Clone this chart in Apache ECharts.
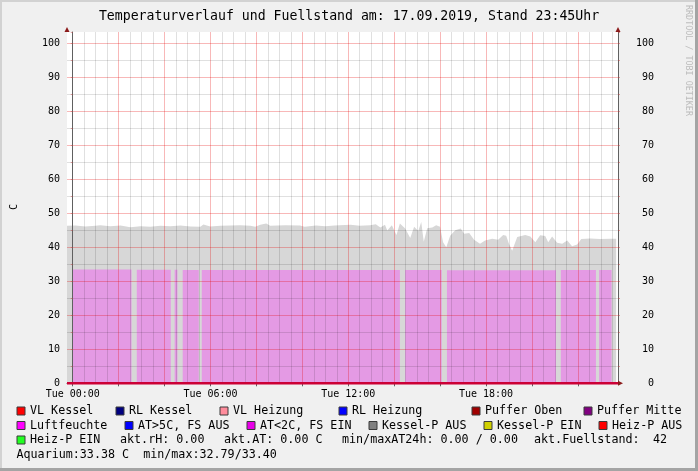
<!DOCTYPE html>
<html><head><meta charset="utf-8">
<script src="https://cdn.jsdelivr.net/npm/echarts@6/dist/echarts.min.js"></script>
<style>html,body{margin:0;padding:0;background:#f0f0f0}#c{width:698px;height:471px}</style>
</head><body><div id="c"></div>
<script>
// ---------- data ----------
const titleText = 'Temperaturverlauf und Fuellstand am: 17.09.2019, Stand 23:45Uhr';
const timeTickHours = [0, 6, 12, 18];
const timeTickLabels = ['Tue 00:00', 'Tue 06:00', 'Tue 12:00', 'Tue 18:00'];
const yLabelValues = [0, 10, 20, 30, 40, 50, 60, 70, 80, 90, 100];

// Fuellstand (grey area), hours relative to Tue 00:00
const fuellHours = [-0.25, 0.12, 0.55, 0.99, 1.2, 1.64, 2.08, 2.51, 2.95, 3.38, 3.82, 4.25, 4.69, 5.12, 5.56, 5.69, 5.99,
  6.43, 6.87, 7.3, 7.74, 7.95, 8.17, 8.43, 8.6, 9.26, 9.9, 10.1, 10.6, 11.0, 11.4, 12.1, 12.5, 12.95, 13.2, 13.4, 13.6,
  13.7, 13.9, 14.1, 14.25, 14.48, 14.7, 14.87, 15.05, 15.18, 15.29, 15.44, 15.66, 15.83, 16.0, 16.13, 16.27, 16.44,
  16.66, 16.9, 17.05, 17.27, 17.48, 17.74, 17.96, 18.27, 18.53, 18.75, 18.88, 19.0, 19.14, 19.36, 19.71, 19.93, 20.15,
  20.36, 20.58, 20.71, 20.88, 21.1, 21.32, 21.54, 21.75, 21.97, 22.15, 22.54, 22.97, 23.41, 23.67];
const fuellValues = [46.3, 46.4, 46.1, 46.3, 46.5, 46.2, 46.4, 45.9, 46.2, 46.0, 46.3, 46.2, 46.4, 46.1, 46.0, 46.7, 46.1,
  46.3, 46.4, 46.5, 46.3, 46.0, 46.6, 47.0, 46.3, 46.5, 46.4, 46.0, 46.4, 46.2, 46.4, 46.6, 46.3, 46.5, 46.8, 45.8, 46.6,
  44.9, 46.5, 43.6, 47.0, 45.5, 42.7, 46.0, 44.8, 47.4, 41.6, 45.6, 45.8, 46.5, 46.0, 41.5, 40.0, 43.4,
  45.0, 45.5, 44.0, 44.2, 42.2, 41.0, 42.0, 42.5, 42.2, 43.6, 43.4, 41.0, 39.0, 43.0, 43.6, 43.2, 41.5,
  43.5, 43.3, 41.5, 43.2, 41.3, 41.0, 42.0, 40.3, 40.8, 42.4, 42.6, 42.4, 42.5, 42.5];

// Aquarium (pink area) segments
const aquaStart = [0.0, 2.79, 4.44, 4.79, 5.62, 14.48, 16.30, 21.26, 22.93];
const aquaEnd = [2.56, 4.27, 4.56, 5.49, 14.25, 16.07, 21.05, 22.79, 23.47];
const aquaValues = [33.45, 33.4, 33.4, 33.35, 33.3, 33.3, 33.25, 33.35, 33.35];

// zero-valued temperature lines
const zeroHours = [-0.25, 23.75];
const zeroValues = [0, 0];

// legend texts and colours
const legendRow1 = ['VL Kessel', 'RL Kessel', 'VL Heizung', 'RL Heizung', 'Puffer Oben', 'Puffer Mitte'];
const legendRow1Colors = ['#FF0000', '#000080', '#FF8C9C', '#0000FF', '#A00000', '#800080'];
const legendRow2 = ['Luftfeuchte', 'AT>5C, FS AUS', 'AT<2C, FS EIN', 'Kessel-P AUS', 'Kessel-P EIN', 'Heiz-P AUS'];
const legendRow2Colors = ['#FF00FF', '#0000FF', '#E800E8', '#808080', '#D0D000', '#FF0000'];
const legendRow3 = ['Heiz-P EIN'];
const legendRow3Colors = ['#22FF22'];
const infoRow3 = ['akt.rH: 0.00', 'akt.AT: 0.00 C', 'min/maxAT24h: 0.00 / 0.00', 'akt.Fuellstand:', '42'];
const infoRow4 = ['Aquarium:33.38 C  min/max:32.79/33.40'];

// ---------- layout ----------
const FONT = '"DejaVu Sans Mono", monospace';
const G = { left: 67, right: 80, top: 32, bottom: 87.7 };
const row1X = [30, 129, 233, 352, 485, 597];
const row2X = [30, 138, 260, 382, 497, 612];
const row3X = [30];
const info3X = [120, 224, 342, 534, 653];
const rowY = [411, 425.5, 440, 454.5];

const fuellData = fuellHours.map((h, i) => [h, fuellValues[i]]);
const aquaData = [];
aquaStart.forEach((s, i) => {
  aquaData.push([s, aquaValues[i]], [aquaEnd[i], aquaValues[i]], [aquaEnd[i], null]);
});
const zeroData = zeroHours.map((h, i) => [h, zeroValues[i]]);

// category ticks every 15 min for labels / tick marks
const cats = [];
for (let i = 0; i <= 96; i++) cats.push(-0.25 + i * 0.25);

const T = 'rgba(0,0,0,0)', R = 'rgba(230,0,0,0.28)', GR = 'rgba(0,0,0,0.12)';

const graphics = [];
// frame
graphics.push({ type: 'rect', shape: { x: 0, y: 0, width: 698, height: 2 }, style: { fill: '#d2d2d2' }, silent: true });
graphics.push({ type: 'rect', shape: { x: 0, y: 0, width: 2, height: 471 }, style: { fill: '#d2d2d2' }, silent: true });
graphics.push({ type: 'rect', shape: { x: 695, y: 0, width: 3, height: 471 }, style: { fill: '#a4a4a4' }, silent: true });
graphics.push({ type: 'rect', shape: { x: 0, y: 468, width: 698, height: 3 }, style: { fill: '#a4a4a4' }, silent: true });
// title
graphics.push({ type: 'text', x: 349, y: 17, style: { text: titleText, font: '13.2px ' + FONT, fill: '#000', align: 'center', verticalAlign: 'middle' } });
// watermark
graphics.push({ type: 'text', x: 688, y: 5, rotation: -Math.PI / 2, style: { text: 'RRDTOOL / TOBI OETIKER', font: '8.4px ' + FONT, fill: '#bcbcbc', align: 'left', verticalAlign: 'middle' } });
// y unit
graphics.push({ type: 'text', x: 14, y: 207, rotation: Math.PI / 2, style: { text: 'C', font: '10px ' + FONT, fill: '#000', align: 'center', verticalAlign: 'middle' } });
// arrows
const ax = G.left, axr = 698 - G.right, ay0 = G.top, ayb = 471 - G.bottom;
graphics.push({ type: 'polygon', shape: { points: [[ax - 2.5, ay0], [ax + 2.5, ay0], [ax, ay0 - 5]] }, style: { fill: '#8b1a1a' }, z: 20 });
graphics.push({ type: 'polygon', shape: { points: [[axr - 2.5, ay0], [axr + 2.5, ay0], [axr, ay0 - 5]] }, style: { fill: '#8b1a1a' }, z: 20 });
graphics.push({ type: 'polygon', shape: { points: [[axr, ayb - 2.5], [axr, ayb + 2.5], [axr + 5, ayb]] }, style: { fill: '#8b1a1a' }, z: 20 });
// legend
function legendItem(text, color, x, y) {
  graphics.push({ type: 'rect', shape: { x: x - 13, y: y - 4, width: 8, height: 8 }, style: { fill: color, stroke: '#3a3a3a', lineWidth: 1 } });
  graphics.push({ type: 'text', x: x, y: y, style: { text: text, font: '11.7px ' + FONT, fill: '#000', align: 'left', verticalAlign: 'middle' } });
}
function infoItem(text, x, y) {
  graphics.push({ type: 'text', x: x, y: y, style: { text: text, font: '11.7px ' + FONT, fill: '#000', align: 'left', verticalAlign: 'middle' } });
}
legendRow1.forEach((t, i) => legendItem(t, legendRow1Colors[i], row1X[i], rowY[0]));
legendRow2.forEach((t, i) => legendItem(t, legendRow2Colors[i], row2X[i], rowY[1]));
legendRow3.forEach((t, i) => legendItem(t, legendRow3Colors[i], row3X[i], rowY[2]));
infoRow3.forEach((t, i) => infoItem(t, info3X[i], rowY[2]));
infoItem(infoRow4[0], 16.5, rowY[3]);

const chart = echarts.init(document.getElementById('c'), null, { renderer: 'canvas' });
chart.setOption({
  animation: false,
  backgroundColor: '#f0f0f0',
  textStyle: { fontFamily: FONT },
  grid: { left: G.left, right: G.right, top: G.top, bottom: G.bottom, show: true, backgroundColor: '#ffffff', borderWidth: 0 },
  xAxis: [
    {
      type: 'value', position: 'bottom', min: -0.25, max: 23.75, interval: 0.25, z: 3,
      axisLine: { show: false }, axisTick: { show: false }, axisLabel: { show: false },
      splitLine: { show: true, lineStyle: { width: 1, color: [T, R, T, GR, T, GR, T, GR] } }
    },
    {
      type: 'category', position: 'bottom', boundaryGap: false, data: cats, z: 3,
      axisLine: { show: true, onZero: false, lineStyle: { color: '#606060', width: 1 } },
      axisTick: { show: true, length: 3, interval: (idx) => (idx % 8) === 1, lineStyle: { color: '#606060' } },
      axisLabel: {
        show: true, margin: 6, fontSize: 10, color: '#000', fontFamily: FONT,
        interval: (idx, val) => timeTickHours.indexOf(Number(val)) >= 0,
        formatter: (val) => { const k = timeTickHours.indexOf(Number(val)); return k >= 0 ? timeTickLabels[k] : ''; }
      },
      splitLine: { show: false }
    }
  ],
  yAxis: [
    {
      type: 'value', position: 'left', min: 0, max: 103.3, interval: 5, z: 3,
      axisLine: { show: true, lineStyle: { color: '#606060', width: 1 } },
      axisTick: { show: true, length: 2, lineStyle: { color: 'rgba(200,60,60,0.45)' } },
      axisLabel: { margin: 7, fontSize: 10, color: '#000', fontFamily: FONT,
        formatter: (v) => yLabelValues.indexOf(v) >= 0 ? String(v) : '' },
      splitLine: { show: true, showMaxLine: false, lineStyle: { width: 1, color: [R, GR] } }
    },
    {
      type: 'value', position: 'right', min: 0, max: 103.3, interval: 5, z: 3,
      axisLine: { show: true, lineStyle: { color: '#606060', width: 1 } },
      axisTick: { show: true, length: 2, lineStyle: { color: 'rgba(200,60,60,0.45)' } },
      axisLabel: { margin: 36, align: 'right', fontSize: 10, color: '#000', fontFamily: FONT,
        formatter: (v) => yLabelValues.indexOf(v) >= 0 ? String(v) : '' },
      splitLine: { show: false }
    }
  ],
  series: [
    {
      name: 'Fuellstand', type: 'line', xAxisIndex: 0, yAxisIndex: 0, data: fuellData, z: 1,
      showSymbol: false, symbol: 'none', lineStyle: { width: 0, opacity: 0 },
      areaStyle: { color: '#d7d7d7', opacity: 1 }
    },
    {
      name: 'Aquarium', type: 'line', xAxisIndex: 0, yAxisIndex: 0, data: aquaData, z: 2,
      connectNulls: false, showSymbol: false, symbol: 'none', lineStyle: { width: 0, opacity: 0 },
      areaStyle: { color: '#e49ae4', opacity: 1 }
    },
    {
      name: 'Temperaturen', type: 'line', xAxisIndex: 0, yAxisIndex: 0, data: zeroData, z: 6, clip: false,
      showSymbol: false, symbol: 'none', lineStyle: { width: 2.6, color: '#cc0036' }
    }
  ],
  graphic: { elements: graphics }
});
</script></body></html>
